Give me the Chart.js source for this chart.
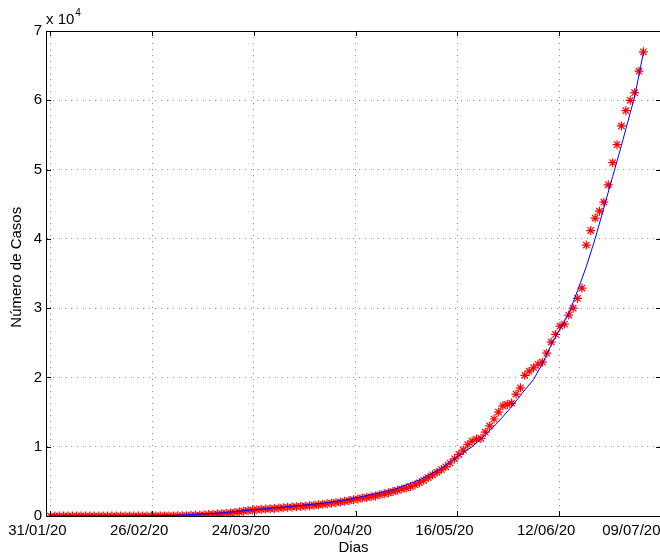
<!DOCTYPE html>
<html>
<head>
<meta charset="utf-8">
<script src="https://cdn.jsdelivr.net/npm/chart.js@4.4.0/dist/chart.umd.min.js"></script>
<style>
  html, body { margin: 0; padding: 0; background: #fff; overflow: hidden; }
  #wrap { width: 660px; height: 559px; overflow: hidden; }
</style>
</head>
<body>
<div id="wrap"><canvas id="chart" width="661" height="559"></canvas></div>
<script>
// x axis: sample index, labelled with dates
const dateLabels = ["31/01/20", "26/02/20", "24/03/20", "20/04/20", "16/05/20", "12/06/20", "09/07/20"];
const tickPositions = [1, 24.17, 47.33, 70.5, 93.67, 116.83, 140];
const yTicks = [0, 10000, 20000, 30000, 40000, 50000, 60000, 70000];

// reported cases (red asterisks), one per sample
const cases = [
  0, 0, 0, 0, 0, 0, 0, 0, 0, 0,
  0, 0, 0, 0, 0, 0, 0, 0, 0, 0,
  0, 1, 1, 2, 3, 5, 8, 12, 17, 25,
  35, 50, 70, 95, 125, 160, 200, 240, 290, 340,
  390, 450, 520, 600, 690, 780, 860, 920, 960, 1000,
  1040, 1090, 1140, 1200, 1250, 1300, 1340, 1380, 1420, 1480,
  1540, 1610, 1690, 1770, 1850, 1930, 2010, 2120, 2230, 2350,
  2470, 2580, 2680, 2770, 2900, 3050, 3200, 3350, 3520, 3700,
  3880, 4030, 4250, 4500, 4800, 5150, 5550, 5950, 6300, 6700,
  7100, 7650, 8250, 8900, 9500, 10300, 10800, 11100, 11200, 12100,
  13000, 14000, 15000, 15900, 16100, 16300, 17600, 18500, 20300, 20900,
  21400, 21900, 22200, 23500, 25100, 26200, 27400, 27700, 29000, 30000,
  31400, 32900, 39100, 41200, 43000, 44000, 45300, 47800, 51000, 53600,
  56300, 58500, 60000, 61100, 64200, 67000
];

// fitted curve (blue line)
const fitDays = [1, 20, 30, 40, 47, 55, 60, 65, 70, 75, 80, 85, 90, 94, 97, 100, 103, 106, 109, 111, 113, 115, 117, 119, 121, 123, 125, 127, 129, 131, 133, 134, 136];
const fitValues = [0, 0, 100, 450, 900, 1350, 1650, 2000, 2550, 3200, 4000, 5200, 6900, 8700, 10000, 11700, 13600, 15800, 18200, 19700, 22000, 24700, 27000, 29200, 32500, 36000, 40000, 44500, 49000, 53500, 58200, 60500, 66900];

Chart.defaults.font.family = "'Liberation Sans', Arial, sans-serif";
Chart.defaults.font.size = 15;
Chart.defaults.color = "#000";

const casePoints = cases.map((v, i) => ({ x: i + 1, y: v }));
const fitPoints = fitDays.map((d, i) => ({ x: d, y: fitValues[i] }));

// axes box, inner tick marks and the "x 10^4" exponent
const boxPlugin = {
  id: "boxAndTicks",
  afterDraw(chart) {
    const { ctx, chartArea: a, scales } = chart;
    ctx.save();
    ctx.strokeStyle = "#000";
    ctx.lineWidth = 1;
    ctx.beginPath();
    ctx.moveTo(a.left, a.top + 0.5);
    ctx.lineTo(a.right, a.top + 0.5);
    ctx.moveTo(a.right - 0.5, a.top);
    ctx.lineTo(a.right - 0.5, a.bottom);
    tickPositions.forEach(v => {
      const px = Math.round(scales.x.getPixelForValue(v)) + 0.5;
      ctx.moveTo(px, a.bottom);
      ctx.lineTo(px, a.bottom - 5);
      ctx.moveTo(px, a.top);
      ctx.lineTo(px, a.top + 5);
    });
    yTicks.forEach(v => {
      const py = Math.round(scales.y.getPixelForValue(v)) + 0.5;
      ctx.moveTo(a.left, py);
      ctx.lineTo(a.left + 5, py);
      ctx.moveTo(a.right, py);
      ctx.lineTo(a.right - 5, py);
    });
    ctx.stroke();

    ctx.fillStyle = "#000";
    ctx.textBaseline = "alphabetic";
    ctx.textAlign = "left";
    ctx.font = "15px 'Liberation Sans', Arial, sans-serif";
    ctx.fillText("x 10", a.left, 24);
    const w = ctx.measureText("x 10").width;
    ctx.font = "10px 'Liberation Sans', Arial, sans-serif";
    ctx.fillText("4", a.left + w + 1, 16);
    ctx.restore();
  }
};

new Chart(document.getElementById("chart"), {
  type: "scatter",
  data: {
    datasets: [
      {
        type: "line",
        label: "Ajuste",
        data: fitPoints,
        borderColor: "#0000ff",
        borderWidth: 1,
        pointRadius: 0,
        fill: false,
        tension: 0,
        order: 0
      },
      {
        label: "Casos",
        data: casePoints,
        pointStyle: "star",
        pointRadius: 4.5,
        borderColor: "#ff0000",
        backgroundColor: "#ff0000",
        borderWidth: 1.2,
        showLine: false,
        order: 1
      }
    ]
  },
  options: {
    responsive: false,
    animation: false,
    events: [],
    layout: { autoPadding: false, padding: { left: 0, top: 31, right: 0, bottom: 0 } },
    plugins: { legend: { display: false }, tooltip: { enabled: false } },
    scales: {
      x: {
        type: "linear",
        min: 0,
        max: 140,
        afterBuildTicks: (scale) => {
          scale.ticks = tickPositions.map(v => ({ value: v }));
        },
        afterFit: (scale) => {
          scale.height = 43;
          scale.paddingLeft = 0;
          scale.paddingRight = 0;
        },
        ticks: {
          autoSkip: false,
          maxRotation: 0,
          padding: 6,
          labelOffset: -13,
          // the last label sits inside the figure edge, as in the original
          callback: (value, index) =>
            index === dateLabels.length - 1 ? dateLabels[index] + "        " : dateLabels[index]
        },
        grid: {
          color: "rgba(0,0,0,0.45)",
          borderDash: [1, 5],
          drawTicks: false
        },
        border: { display: true, color: "#000", dash: [1, 5] },
        title: { display: true, text: "Dias", padding: { top: 0, bottom: 2 } }
      },
      y: {
        min: 0,
        max: 70000,
        afterBuildTicks: (scale) => {
          scale.ticks = yTicks.map(v => ({ value: v }));
        },
        afterFit: (scale) => {
          scale.width = 46;
          scale.paddingTop = 0;
          scale.paddingBottom = 0;
        },
        ticks: {
          padding: 4,
          callback: (value) => value / 10000
        },
        grid: {
          color: "rgba(0,0,0,0.45)",
          drawTicks: false
        },
        border: { display: true, color: "#000", dash: [1, 5] },
        title: { display: true, text: "   Número de Casos", padding: { top: 8, bottom: 0 } }
      }
    }
  },
  plugins: [boxPlugin]
});
</script>
</body>
</html>
